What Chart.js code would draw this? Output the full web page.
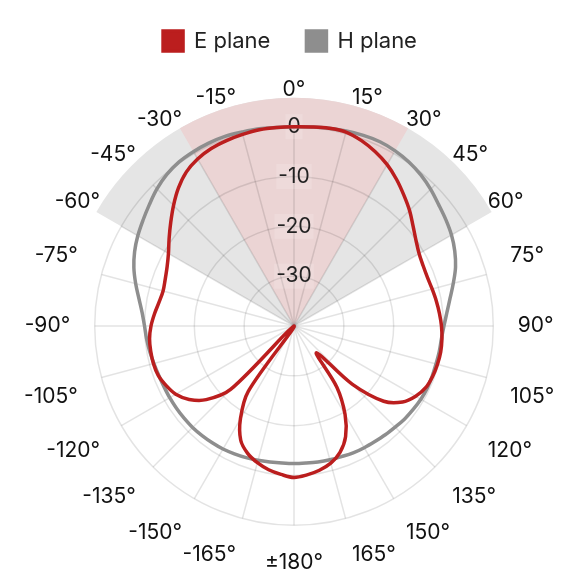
<!DOCTYPE html>
<html>
<head>
<meta charset="utf-8">
<script src="https://cdn.jsdelivr.net/npm/chart.js@4.4.1/dist/chart.umd.min.js"></script>
<style>
  html, body { margin: 0; padding: 0; background: #fff; }
  #wrap { width: 580px; height: 580px; }
</style>
</head>
<body>
<div id="wrap"><canvas id="polar"></canvas></div>
<script>
// azimuth in degrees, clockwise from the top, every 5 degrees
const angles = [0, 5, 10, 15, 20, 25, 30, 35, 40, 45, 50, 55, 60, 65, 70, 75, 80, 85,
  90, 95, 100, 105, 110, 115, 120, 125, 130, 135, 140, 145, 150, 155, 160, 165, 170, 175,
  180, -175, -170, -165, -160, -155, -150, -145, -140, -135, -130, -125, -120, -115, -110, -105,
  -100, -95, -90, -85, -80, -75, -70, -65, -60, -55, -50, -45, -40, -35, -30, -25, -20, -15, -10, -5];

// the angles that get a label, and their text
const labelledAngles = [0, 15, 30, 45, 60, 75, 90, 105, 120, 135, 150, 165, 180,
  -165, -150, -135, -120, -105, -90, -75, -60, -45, -30, -15];
const angleLabels = ['0°', '15°', '30°', '45°', '60°', '75°', '90°', '105°', '120°', '135°', '150°', '165°', '±180°',
  '-165°', '-150°', '-135°', '-120°', '-105°', '-90°', '-75°', '-60°', '-45°', '-30°', '-15°'];

// gain in dB
const ePlane = [0, 0.1, 0.3, 0.3, -0.4, -1.4, -2.6, -4.1, -5.7, -7.2, -8.8, -10.1, -11.0, -11.4, -11.5, -11.3, -11.0, -10.7,
  -10.4, -10.2, -10.1, -10.2, -10.4, -10.8, -11.8, -13.4, -16.5, -23.5, -33, -25, -19.5, -15.5, -13, -11.5, -10.6, -10,
  -9.6, -10.1, -10.7, -11.6, -12.8, -14.7, -18.5, -24, -40, -22, -17, -14.3, -12.6, -11.7, -11.0, -10.8,
  -10.8, -10.9, -11.3, -11.9, -12.5, -12.8, -12.5, -11.9, -10.9, -9.4, -7.7, -5.8, -3.9, -2.3, -1.3, -0.7, -0.4, -0.2, 0, 0];

const hPlane = [0, 0.1, 0.3, 0.5, 0.7, 0.8, 0.6, 0.2, -0.4, -1.2, -2.1, -2.8, -3.5, -4.4, -5.5, -6.9, -8.2, -9.2,
  -9.9, -10.3, -10.4, -10.5, -10.5, -10.5, -10.6, -10.8, -11.0, -11.3, -11.5, -11.7, -11.8, -11.9, -12.1, -12.2, -12.3, -12.4,
  -12.4, -12.4, -12.3, -12.1, -11.9, -11.7, -11.5, -11.4, -11.3, -11.2, -11.2, -11.2, -11.2, -11.2, -11.1, -10.9,
  -10.6, -10.3, -10.0, -9.4, -8.4, -7.1, -5.8, -4.7, -3.8, -3.0, -2.1, -1.1, -0.3, 0.2, 0.4, 0.5, 0.5, 0.3, 0.2, 0];

const dbTicks = [-40, -30, -20, -10, 0];

// shaded angular ranges [from, to]
const wideSector = [-60, 60];
const narrowSector = [-30, 30];

const FONT = 'Inter, "DejaVu Sans", sans-serif';

const sectorPlugin = {
  id: 'sectors',
  beforeDraw(chart) {
    const scale = chart.scales.r;
    const ctx = chart.ctx;
    const cx = scale.xCenter, cy = scale.yCenter;
    const R = scale.drawingArea * 1.145;
    const toRad = (deg) => scale.getIndexAngle(angles.indexOf(deg)) - Math.PI / 2;
    const wedge = (range, color) => {
      let a0 = toRad(range[0]), a1 = toRad(range[1]);
      if (a1 < a0) a1 += Math.PI * 2;
      ctx.beginPath();
      ctx.moveTo(cx, cy);
      ctx.arc(cx, cy, R, a0, a1);
      ctx.closePath();
      ctx.fillStyle = color;
      ctx.fill();
    };
    ctx.save();
    wedge(wideSector, '#e5e5e5');
    wedge(narrowSector, '#ebd4d4');
    ctx.restore();
  }
};

// give the legend a fixed height so the polar plot sits where it should
const legendHeight = {
  id: 'legendHeight',
  beforeInit(chart) {
    const fit = chart.legend.fit;
    chart.legend.fit = function () {
      fit.bind(chart.legend)();
      this.height = 84;
    };
  }
};

new Chart(document.getElementById('polar'), {
  type: 'radar',
  data: {
    labels: angles,
    datasets: [{
      label: 'E plane',
      data: ePlane,
      borderColor: '#bb1e1e',
      backgroundColor: '#bb1e1e',
      borderWidth: 3.5,
      pointRadius: 0,
      fill: false,
      tension: 0.35
    }, {
      label: 'H plane',
      data: hPlane,
      borderColor: '#8e8e8e',
      backgroundColor: '#8e8e8e',
      borderWidth: 3.5,
      pointRadius: 0,
      fill: false,
      tension: 0.35
    }]
  },
  options: {
    responsive: true,
    maintainAspectRatio: false,
    animation: false,
    layout: { padding: { top: -6, bottom: 4, left: 0, right: 0 } },
    plugins: {
      legend: {
        position: 'top',
        labels: {
          boxWidth: 20,
          boxHeight: 20,
          padding: 36,
          color: '#222',
          font: { family: FONT, size: 22 }
        }
      },
      tooltip: { enabled: false }
    },
    scales: {
      r: {
        min: -40,
        max: 0,
        afterBuildTicks: (scale) => { scale.ticks = dbTicks.map(v => ({ value: v })); },
        ticks: {
          color: '#222',
          font: { family: FONT, size: 21 },
          backdropColor: (ctx) => ctx.index === 0 ? 'rgba(0,0,0,0)' : 'rgba(255,255,255,0.15)',
          callback: (v) => v === -40 ? '' : String(v)
        },
        grid: { circular: true, color: 'rgba(0,0,0,0.11)', lineWidth: 1.5 },
        angleLines: {
          color: 'rgba(0,0,0,0.11)',
          lineWidth: (ctx) => labelledAngles.includes(angles[ctx.index]) ? 1.5 : 0
        },
        pointLabels: {
          color: '#111',
          padding: 12,
          font: { family: FONT, size: 21 },
          callback: (label) => {
            const k = labelledAngles.indexOf(label);
            return k >= 0 ? angleLabels[k] : '';
          }
        }
      }
    }
  },
  plugins: [sectorPlugin, legendHeight]
});
</script>
</body>
</html>
